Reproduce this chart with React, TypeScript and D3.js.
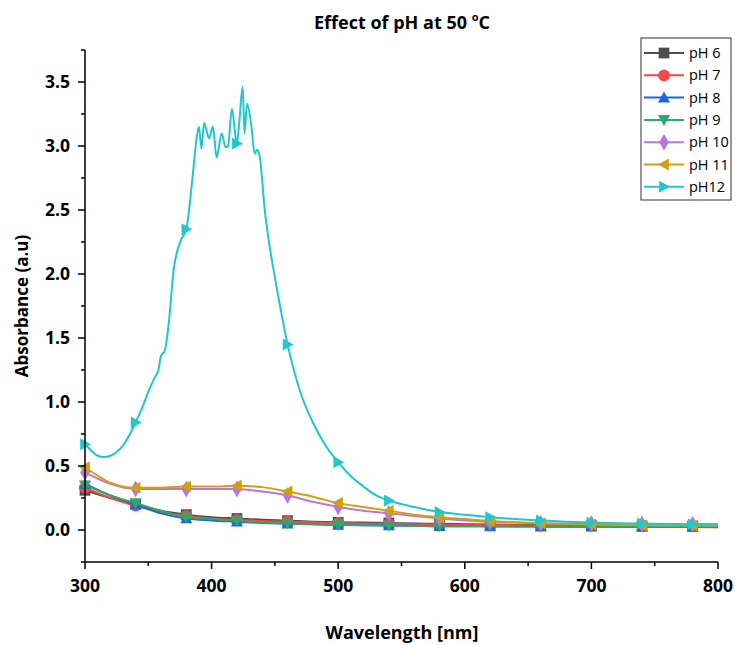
import { useRef, useEffect } from "react";
import * as d3 from "d3";

// common wavelength grid for pH 6–11 (nm)
const wavelengths = [300, 320, 340, 360, 380, 400, 420, 440, 460, 480, 500, 520, 540, 560, 580, 600, 620, 640, 660, 680, 700, 720, 740, 760, 780, 800];

const ph6 = [0.31, 0.25, 0.20, 0.15, 0.12, 0.10, 0.09, 0.08, 0.073, 0.065, 0.06, 0.058, 0.055, 0.05, 0.048, 0.045, 0.042, 0.04, 0.038, 0.035, 0.034, 0.033, 0.032, 0.031, 0.03, 0.03];
const ph7 = [0.33, 0.25, 0.19, 0.14, 0.11, 0.09, 0.08, 0.07, 0.065, 0.06, 0.055, 0.05, 0.048, 0.045, 0.042, 0.04, 0.04, 0.038, 0.036, 0.035, 0.034, 0.033, 0.032, 0.031, 0.03, 0.03];
const ph8 = [0.36, 0.27, 0.20, 0.13, 0.09, 0.075, 0.065, 0.055, 0.05, 0.045, 0.04, 0.038, 0.035, 0.033, 0.03, 0.03, 0.028, 0.027, 0.026, 0.025, 0.025, 0.024, 0.024, 0.023, 0.023, 0.022];
const ph9 = [0.35, 0.27, 0.21, 0.15, 0.10, 0.085, 0.07, 0.06, 0.05, 0.045, 0.04, 0.037, 0.035, 0.033, 0.03, 0.03, 0.03, 0.028, 0.027, 0.026, 0.026, 0.025, 0.025, 0.025, 0.025, 0.025];
const ph10 = [0.45, 0.36, 0.32, 0.32, 0.32, 0.32, 0.32, 0.30, 0.27, 0.22, 0.18, 0.15, 0.13, 0.11, 0.09, 0.075, 0.065, 0.058, 0.052, 0.05, 0.05, 0.048, 0.046, 0.045, 0.045, 0.045];
const ph11 = [0.49, 0.37, 0.33, 0.33, 0.34, 0.34, 0.345, 0.335, 0.30, 0.26, 0.21, 0.18, 0.15, 0.12, 0.10, 0.085, 0.07, 0.06, 0.052, 0.046, 0.042, 0.04, 0.038, 0.036, 0.035, 0.034];

// pH 12 has its own, denser grid (noisy peak)
const ph12Wl = [300, 305, 310, 315, 320, 325, 330, 335, 340, 345, 350, 355, 358, 360, 363, 366, 370, 376, 380, 385, 388, 390, 392, 394, 396, 398, 401, 404, 408, 411, 413, 416, 419, 420, 422, 424.5, 426, 428, 431.5, 434, 436, 438, 442, 445, 449, 455, 460, 465, 470, 480, 490, 500, 510, 520, 530, 540, 560, 580, 600, 620, 640, 660, 680, 700, 720, 740, 760, 780, 800];
const ph12 = [0.67, 0.62, 0.58, 0.57, 0.58, 0.61, 0.66, 0.74, 0.84, 0.95, 1.08, 1.19, 1.25, 1.36, 1.40, 1.60, 2.03, 2.27, 2.35, 2.76, 3.05, 3.15, 2.98, 3.18, 3.12, 3.06, 3.15, 2.91, 3.10, 2.99, 3.00, 3.29, 3.07, 3.02, 3.20, 3.46, 3.10, 3.33, 3.15, 2.94, 2.97, 2.92, 2.50, 2.27, 2.03, 1.70, 1.45, 1.25, 1.08, 0.84, 0.66, 0.53, 0.42, 0.34, 0.27, 0.23, 0.18, 0.14, 0.12, 0.10, 0.085, 0.075, 0.065, 0.058, 0.053, 0.05, 0.047, 0.045, 0.044];

const seriesNames = ["pH 6", "pH 7", "pH 8", "pH 9", "pH 10", "pH 11", "pH12"];
const seriesColors = ["#4d4d4d", "#f54747", "#1f66dc", "#2da86a", "#b576e0", "#d4a009", "#1ec8cc"];
const seriesSymbols = [d3.symbolSquare, d3.symbolCircle, "up", "down", d3.symbolDiamond, "left", "right"];

const xTicks = [300, 400, 500, 600, 700, 800];
const yTicks = [0, 0.5, 1.0, 1.5, 2.0, 2.5, 3.0, 3.5];

const FONT = "'Open Sans', 'DejaVu Sans', sans-serif";

function markerPath(sym: any, size: number) {
  const s = size / 2;
  if (sym === "up") return `M0,${-s}L${s},${s * 0.8}L${-s},${s * 0.8}Z`;
  if (sym === "down") return `M0,${s}L${s},${-s * 0.8}L${-s},${-s * 0.8}Z`;
  if (sym === "left") return `M${-s},0L${s * 0.8},${-s}L${s * 0.8},${s}Z`;
  if (sym === "right") return `M${s},0L${-s * 0.8},${-s}L${-s * 0.8},${s}Z`;
  const area = sym === d3.symbolDiamond ? size * size * 0.55 : sym === d3.symbolCircle ? size * size * 0.75 : size * size * 0.8;
  return d3.symbol(sym, area)()!;
}

export default function App() {
  const svgRef = useRef<SVGSVGElement>(null);

  useEffect(() => {
    if (!svgRef.current) return;
    const svg = d3.select(svgRef.current);
    svg.selectAll("*").remove();

    const x = d3.scaleLinear().domain([300, 800]).range([85, 718]);
    const y = d3.scaleLinear().domain([-0.25, 3.75]).range([562, 50]);

    const series = [
      ...[ph6, ph7, ph8, ph9, ph10, ph11].map(vals => wavelengths.map((w, i) => ({ w, a: vals[i] }))),
      ph12Wl.map((w, i) => ({ w, a: ph12[i] })),
    ];

    const line = d3.line<{ w: number; a: number }>()
      .x(d => x(d.w))
      .y(d => y(d.a))
      .curve(d3.curveMonotoneX);

    series.forEach((pts, k) => {
      svg.append("path")
        .datum(pts)
        .attr("fill", "none")
        .attr("stroke", seriesColors[k])
        .attr("stroke-width", 2)
        .attr("d", line);
      svg.append("g")
        .selectAll("path")
        .data(pts.filter(d => (d.w - 300) % 40 === 0 && d.w < 800))
        .join("path")
        .attr("transform", d => `translate(${x(d.w)},${y(d.a)})`)
        .attr("d", markerPath(seriesSymbols[k], 12))
        .attr("fill", seriesColors[k]);
    });

    // axes
    const xAxis = svg.append("g").attr("transform", `translate(0,${y(-0.25)})`);
    xAxis.append("line").attr("x1", x(300)).attr("x2", x(800)).attr("stroke", "#000").attr("stroke-width", 1.5);
    d3.range(300, 801, 50).forEach(v => {
      xAxis.append("line").attr("x1", x(v)).attr("x2", x(v)).attr("y1", 0).attr("y2", v % 100 === 0 ? 7 : 4)
        .attr("stroke", "#000").attr("stroke-width", 1.5);
    });
    xAxis.selectAll("text.tick").data(xTicks).join("text")
      .attr("x", d => x(d)).attr("y", 30).attr("text-anchor", "middle")
      .attr("font-family", FONT).attr("font-weight", "bold").attr("font-size", 17.5)
      .text(d => d);

    const yAxis = svg.append("g").attr("transform", `translate(${x(300)},0)`);
    yAxis.append("line").attr("y1", y(-0.25)).attr("y2", y(3.75)).attr("stroke", "#000").attr("stroke-width", 1.5);
    d3.range(-0.25, 3.76, 0.25).forEach(v => {
      const major = Math.abs(v * 2 - Math.round(v * 2)) < 1e-6;
      yAxis.append("line").attr("x1", 0).attr("x2", major ? -7 : -4).attr("y1", y(v)).attr("y2", y(v))
        .attr("stroke", "#000").attr("stroke-width", 1.5);
    });
    yAxis.selectAll("text.tick").data(yTicks).join("text")
      .attr("x", -15).attr("y", d => y(d)).attr("dy", "0.35em").attr("text-anchor", "end")
      .attr("font-family", FONT).attr("font-weight", "bold").attr("font-size", 17.5)
      .text(d => d.toFixed(1));

    // labels
    const title = svg.append("text").attr("x", 402).attr("y", 29).attr("text-anchor", "middle")
      .attr("font-family", FONT).attr("font-weight", "bold").attr("font-size", 18);
    title.append("tspan").text("Effect of pH at 50 ");
    title.append("tspan").attr("font-size", 11).attr("dy", -8).text("o");
    title.append("tspan").attr("dy", 8).text("C");

    svg.append("text").attr("x", 402).attr("y", 639).attr("text-anchor", "middle")
      .attr("font-family", FONT).attr("font-weight", "bold").attr("font-size", 18)
      .text("Wavelength [nm]");
    svg.append("text").attr("transform", `translate(28,${y(1.75)}) rotate(-90)`).attr("text-anchor", "middle")
      .attr("font-family", FONT).attr("font-weight", "bold").attr("font-size", 17)
      .text("Absorbance (a.u)");

    // legend
    const lg = svg.append("g").attr("transform", "translate(641,38)");
    lg.append("rect").attr("width", 90).attr("height", 162).attr("fill", "#fff").attr("stroke", "#333").attr("stroke-width", 1);
    seriesNames.forEach((name, k) => {
      const cy = 15 + k * 22.3;
      lg.append("line").attr("x1", 3).attr("x2", 43).attr("y1", cy).attr("y2", cy)
        .attr("stroke", seriesColors[k]).attr("stroke-width", 2);
      lg.append("path").attr("transform", `translate(23,${cy})`).attr("d", markerPath(seriesSymbols[k], 12))
        .attr("fill", seriesColors[k]);
      lg.append("text").attr("x", 48).attr("y", cy).attr("dy", "0.35em")
        .attr("font-family", FONT).attr("font-size", 14.5).text(name);
    });
  }, []);

  return <svg ref={svgRef} width={738} height={645} style={{ position: "absolute", left: 0, top: 0 }}></svg>;
}
